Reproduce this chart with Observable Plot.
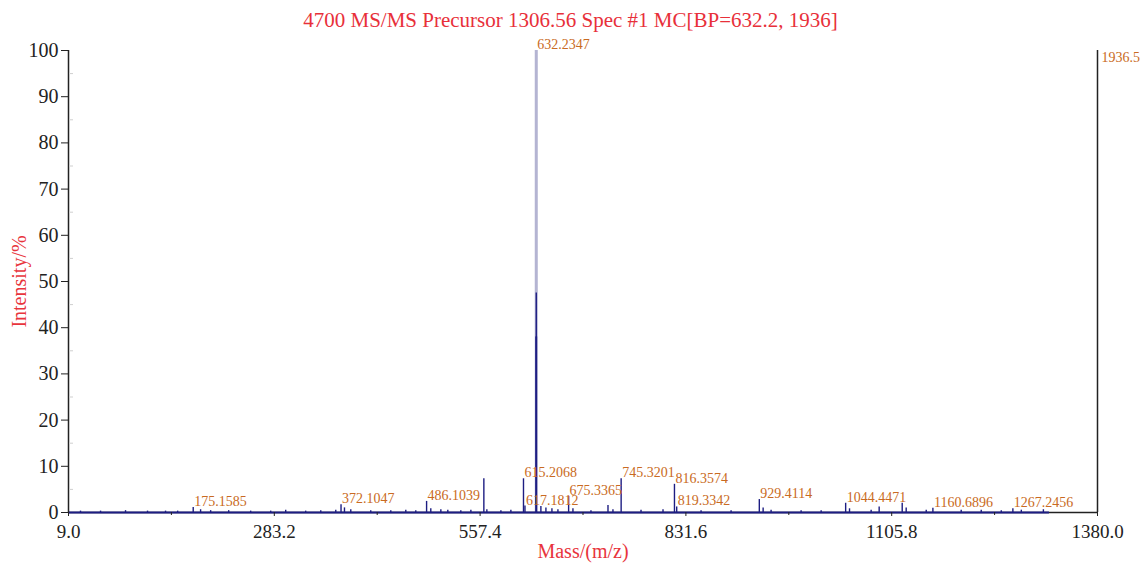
<!DOCTYPE html>
<html>
<head>
<meta charset="utf-8">
<script src="https://cdn.jsdelivr.net/npm/d3@7"></script>
<script src="https://cdn.jsdelivr.net/npm/@observablehq/plot@0.6"></script>
<style>
  html, body { margin: 0; padding: 0; background: #fff; }
  #title { height: 38px; line-height: 40px; text-align: center; font-family: "Liberation Serif", serif; font-size: 21px; color: #e8303a; width: 1141px; }
  g[aria-label="x-axis label"] text, g[aria-label="y-axis label"] text { fill: #e8343c; }
</style>
</head>
<body>
<div id="title"></div>
<div id="chart"></div>
<script>
const titleText = "4700 MS/MS Precursor 1306.56 Spec #1 MC[BP=632.2, 1936]";
const xLabel = "Mass/(m/z)";
const yLabel = "Intensity/%";
const xDomain = [9.0, 1380.0];
const xTicks = [9.0, 283.2, 557.4, 831.6, 1105.8, 1380.0];
const xMinorTicks = [146.1, 420.3, 694.5, 968.7, 1242.9];
const yTicks = [0, 10, 20, 30, 40, 50, 60, 70, 80, 90, 100];
const yMinorTicks = [5, 15, 25, 35, 45, 55, 65, 75, 85, 95];
const maxCounts = "1936.5";

// base peak (centroid, drawn light)
const centroidMz = [632.2347];
const centroidInt = [100];

// profile peaks (m/z, relative intensity %)
const peakMz = [25.0, 51.7, 85.0, 114.3, 138.3, 154.4, 175.1585, 185.0, 198.4, 222.4,
  251.7, 278.4, 298.4, 325.0, 345.1, 365.1, 372.1047, 376.7, 385.1, 411.7,
  438.4, 458.4, 471.7, 486.1039, 491.7, 505.1, 514.4, 531.7, 545.1, 562.4,
  566.4, 585.1, 598.4, 615.2068, 617.1812, 632.0, 632.2347, 632.5, 638.4, 645.1,
  653.1, 661.1, 675.3365, 681.1, 705.1, 727.8, 734.4, 745.3201, 771.8, 801.1,
  816.3574, 819.3342, 851.8, 891.8, 929.4114, 934.5, 945.1, 985.1, 1011.8, 1044.4471,
  1049.6, 1078.4, 1089.1, 1119.8, 1125.1, 1151.8, 1160.6896, 1198.4, 1225.1, 1251.8,
  1267.2456, 1278.5, 1307.9];
const peakInt = [0.3, 0.3, 0.4, 0.3, 0.3, 0.3, 1.1, 0.6, 0.4, 0.4,
  0.3, 0.3, 0.5, 0.3, 0.4, 0.5, 1.7, 1.0, 0.6, 0.4,
  0.4, 0.5, 0.4, 2.4, 0.8, 0.6, 0.5, 0.4, 0.5, 7.3,
  0.6, 0.4, 0.5, 7.3, 1.4, 38, 47.5, 38, 1.3, 1.0,
  0.8, 0.6, 3.5, 0.8, 0.4, 1.5, 0.6, 7.3, 0.5, 0.6,
  6.1, 1.2, 0.4, 0.4, 2.8, 1.0, 0.5, 0.4, 0.4, 2.0,
  0.8, 0.5, 1.2, 2.0, 1.0, 0.5, 0.9, 0.5, 0.5, 0.4,
  0.8, 0.5, 0.6];
const profileEnd = 1316;

// annotated peaks (m/z, apex intensity %)
const labelMz = [175.1585, 372.1047, 486.1039, 615.2068, 617.1812, 632.2347, 675.3365, 745.3201,
  816.3574, 819.3342, 929.4114, 1044.4471, 1160.6896, 1267.2456];
const labelInt = [1.1, 1.7, 2.4, 7.3, 1.4, 100, 3.5, 7.3, 6.1, 1.2, 2.8, 2.0, 0.9, 0.8];

const centroids = centroidMz.map((mz, i) => ({mz, i: centroidInt[i]}));
const peaks = peakMz.map((mz, i) => ({mz, i: peakInt[i]}));
const labels = labelMz.map((mz, i) => ({mz, i: labelInt[i], text: mz.toFixed(4)}));

document.getElementById("title").textContent = titleText;

const navy = "#1d1d82";
const orange = "#c96a22";
const ink = "#222";

const chart = Plot.plot({
  width: 1141,
  height: 525,
  marginTop: 12,
  marginBottom: 51,
  marginLeft: 68,
  marginRight: 44,
  style: {fontFamily: "'Liberation Serif', 'DejaVu Serif', serif", color: ink, background: "#fff"},
  x: {domain: xDomain},
  y: {domain: [0, 100]},
  marks: [
    Plot.ruleX(centroids, {x: "mz", y1: 0, y2: "i", stroke: "#b4b4d2", strokeWidth: 3}),
    Plot.ruleY([0], {stroke: ink, strokeWidth: 1.5}),
    Plot.ruleY([0], {x1: xDomain[0], x2: profileEnd, stroke: navy, strokeWidth: 2}),
    Plot.ruleX(peaks, {x: "mz", y1: 0, y2: "i", stroke: navy, strokeWidth: 1.4}),
    Plot.ruleX([xDomain[0]], {stroke: ink, strokeWidth: 1.5}),
    Plot.ruleX([xDomain[1]], {stroke: ink, strokeWidth: 1.5}),
    Plot.text(labels, {x: "mz", y: "i", text: "text", textAnchor: "start", dx: 1, dy: -6, fill: orange, fontSize: 14}),
    Plot.text([maxCounts], {x: xDomain[1], y: 100, text: d => d, textAnchor: "start", dx: 4, dy: 7, fill: orange, fontSize: 14}),
    Plot.axisY(yTicks, {tickSize: 7, tickPadding: 3, fontSize: 20, label: yLabel, labelAnchor: "center", labelArrow: "none", labelOffset: 57, stroke: ink, fill: ink}),
    Plot.axisY(yMinorTicks, {tickSize: 4, dx: 5, tickFormat: () => "", label: null, stroke: "#cfcfcf"}),
    Plot.axisX(xTicks, {tickSize: 4, tickPadding: 8, fontSize: 19, tickFormat: d => d.toFixed(1), label: xLabel, labelAnchor: "center", labelArrow: "none", labelOffset: 45, stroke: ink, fill: ink}),
    Plot.axisX(xMinorTicks, {tickSize: 3, tickFormat: () => "", label: null, stroke: ink})
  ]
});
chart.querySelectorAll('g[aria-label="x-axis label"] text, g[aria-label="y-axis label"] text').forEach(t => t.setAttribute("font-size", "20"));
document.getElementById("chart").appendChild(chart);
</script>
</body>
</html>
